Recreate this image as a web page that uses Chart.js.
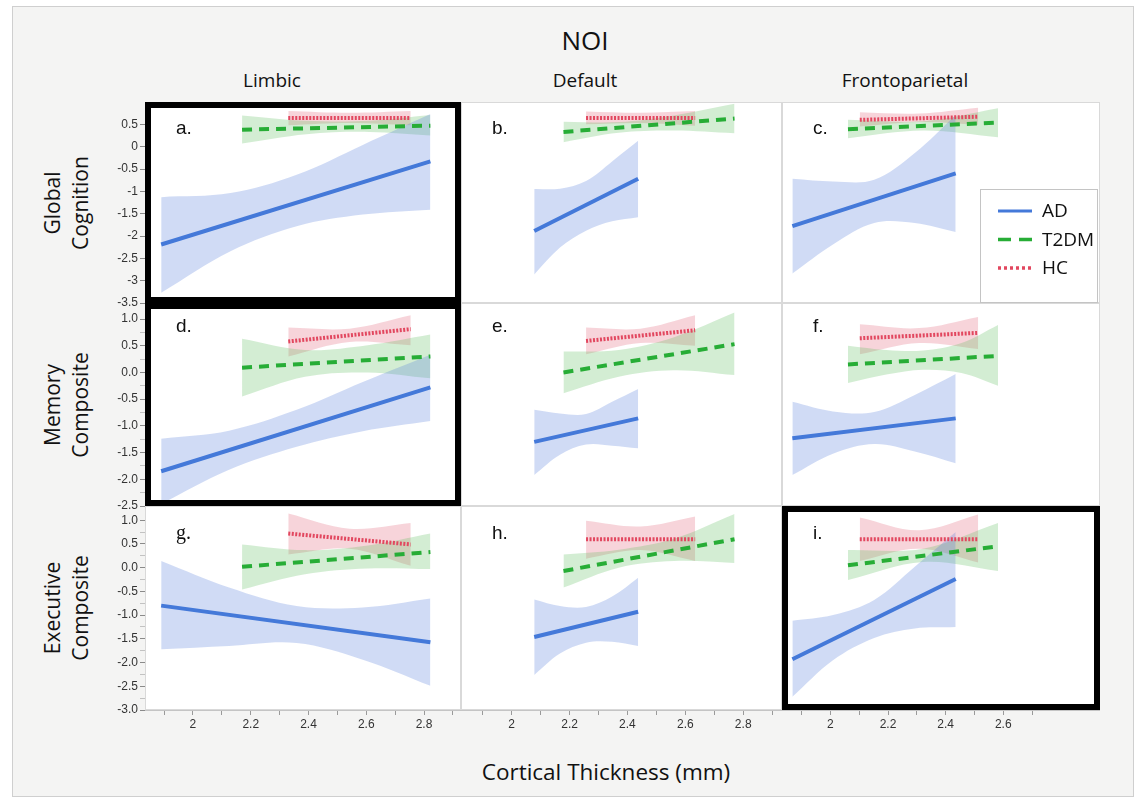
<!DOCTYPE html>
<html>
<head>
<meta charset="utf-8">
<title>NOI</title>
<script src="https://cdn.jsdelivr.net/npm/chart.js@4.4.1/dist/chart.umd.min.js"></script>
<style>
  body { margin: 0; width: 1137px; height: 798px; background: #fff; position: relative; overflow: hidden; font-family: "Open Sans", sans-serif; color: #111; }
  #frame { position: absolute; left: 12px; top: 6px; width: 1120px; height: 789px; background: #f4f4f3; border: 1px solid #cfcfcf; }
  #plotBg { position: absolute; left: 145px; top: 102px; width: 955px; height: 608px; background: #fff; }
  .ttl { position: absolute; white-space: nowrap; transform: translate(-50%, -50%); }
  .rowTtl { position: absolute; white-space: nowrap; text-align: center; font-size: 21px; line-height: 28px; transform: translate(-50%, -50%) rotate(-90deg); }
  canvas { position: absolute; }
</style>
</head>
<body>
<div id="frame"></div>
<div id="plotBg"></div>
<script>
var groups = ['AD', 'T2DM', 'HC'];
var networks = ['Limbic', 'Default', 'Frontoparietal'];
var outcomes = [['Global', 'Cognition'], ['Memory', 'Composite'], ['Executive', 'Composite']];
var panelLetters = ['a.', 'b.', 'c.', 'd.', 'e.', 'f.', 'g.', 'h.', 'i.'];
var boxedPanels = ['a.', 'd.', 'i.'];

var xTickLabels = [[2, 2.2, 2.4, 2.6, 2.8], [2, 2.2, 2.4, 2.6, 2.8], [2, 2.2, 2.4, 2.6]];
var xTickMarks = [
  [1.9, 2, 2.1, 2.2, 2.3, 2.4, 2.5, 2.6, 2.7, 2.8, 2.9],
  [1.9, 2, 2.1, 2.2, 2.3, 2.4, 2.5, 2.6, 2.7, 2.8, 2.9],
  [1.9, 2, 2.1, 2.2, 2.3, 2.4, 2.5, 2.6, 2.7]
];
var xLimits = [[1.834, 2.928], [1.825, 2.934], [1.832, 2.936]];

var yTickLabels = [
  [0.5, 0, -0.5, -1, -1.5, -2, -2.5, -3, -3.5],
  [1.0, 0.5, 0.0, -0.5, -1.0, -1.5, -2.0, -2.5],
  [1.0, 0.5, 0.0, -0.5, -1.0, -1.5, -2.0, -2.5, -3.0]
];
var yMinorTicks = [
  [],
  [0.75, 0.25, -0.25, -0.75, -1.25, -1.75, -2.25],
  [0.75, 0.25, -0.25, -0.75, -1.25, -1.75, -2.25, -2.75]
];
var yLimits = [[-3.5, 1.0], [-2.5, 1.3], [-3.0, 1.3]];

// fit lines: [x, y] at both ends; bands: [x, upper, lower]
// a. Limbic / Global Cognition
var aAdFit = [[1.890, -2.19], [2.822, -0.33]];
var aAdBand = [[1.890, -1.13, -3.27], [2.130, -1.04, -2.34], [2.359, -0.63, -1.78], [2.588, 0.04, -1.52], [2.822, 0.73, -1.41]];
var aT2Fit = [[2.170, 0.38], [2.822, 0.47]];
var aT2Band = [[2.170, 0.70, 0.07], [2.393, 0.58, 0.28], [2.611, 0.58, 0.33], [2.822, 0.71, 0.25]];
var aHcFit = [[2.330, 0.64], [2.754, 0.64]];
var aHcBand = [[2.330, 0.80, 0.48], [2.542, 0.76, 0.53], [2.754, 0.80, 0.48]];
// b. Default / Global Cognition
var bAdFit = [[2.078, -1.89], [2.437, -0.72]];
var bAdBand = [[2.078, -0.95, -2.86], [2.167, -0.94, -2.26], [2.257, -0.77, -1.88], [2.347, -0.33, -1.67], [2.437, 0.13, -1.58]];
var bT2Fit = [[2.179, 0.33], [2.770, 0.63]];
var bT2Band = [[2.179, 0.56, 0.10], [2.370, 0.55, 0.31], [2.561, 0.70, 0.36], [2.770, 0.96, 0.30]];
var bHcFit = [[2.257, 0.64], [2.634, 0.64]];
var bHcBand = [[2.257, 0.79, 0.50], [2.445, 0.76, 0.53], [2.634, 0.80, 0.47]];
// c. Frontoparietal / Global Cognition
var cAdFit = [[1.868, -1.78], [2.435, -0.60]];
var cAdBand = [[1.868, -0.72, -2.84], [2.009, -0.78, -2.19], [2.152, -0.74, -1.71], [2.293, -0.14, -1.71], [2.435, 0.71, -1.91]];
var cT2Fit = [[2.061, 0.39], [2.582, 0.54]];
var cT2Band = [[2.061, 0.60, 0.19], [2.322, 0.57, 0.36], [2.582, 0.86, 0.21]];
var cHcFit = [[2.102, 0.60], [2.513, 0.67]];
var cHcBand = [[2.102, 0.77, 0.45], [2.308, 0.74, 0.55], [2.513, 0.87, 0.49]];
// d. Limbic / Memory Composite
var dAdFit = [[1.890, -1.85], [2.822, -0.28]];
var dAdBand = [[1.890, -1.24, -2.46], [2.125, -1.09, -1.82], [2.359, -0.70, -1.39], [2.588, -0.18, -1.10], [2.822, 0.33, -0.91]];
var dT2Fit = [[2.170, 0.09], [2.822, 0.30]];
var dT2Band = [[2.170, 0.63, -0.45], [2.388, 0.42, -0.08], [2.605, 0.51, 0.00], [2.822, 0.71, -0.11]];
var dHcFit = [[2.330, 0.58], [2.754, 0.81]];
var dHcBand = [[2.330, 0.84, 0.30], [2.542, 0.82, 0.57], [2.754, 1.07, 0.51]];
// e. Default / Memory Composite
var eAdFit = [[2.078, -1.30], [2.437, -0.86]];
var eAdBand = [[2.078, -0.70, -1.92], [2.167, -0.77, -1.54], [2.257, -0.78, -1.35], [2.347, -0.55, -1.37], [2.437, -0.31, -1.42]];
var eT2Fit = [[2.179, 0.00], [2.770, 0.53]];
var eT2Band = [[2.179, 0.39, -0.39], [2.370, 0.42, -0.08], [2.561, 0.66, 0.04], [2.770, 1.12, -0.05]];
var eHcFit = [[2.257, 0.59], [2.634, 0.79]];
var eHcBand = [[2.257, 0.84, 0.34], [2.445, 0.82, 0.55], [2.634, 1.07, 0.50]];
// f. Frontoparietal / Memory Composite
var fAdFit = [[1.868, -1.23], [2.435, -0.86]];
var fAdBand = [[1.868, -0.55, -1.92], [2.009, -0.73, -1.52], [2.152, -0.74, -1.34], [2.293, -0.42, -1.48], [2.435, -0.03, -1.70]];
var fT2Fit = [[2.061, 0.15], [2.582, 0.31]];
var fT2Band = [[2.061, 0.50, -0.20], [2.194, 0.42, -0.04], [2.322, 0.41, 0.05], [2.455, 0.55, -0.01], [2.582, 0.89, -0.25]];
var fHcFit = [[2.102, 0.64], [2.513, 0.74]];
var fHcBand = [[2.102, 0.90, 0.34], [2.308, 0.83, 0.55], [2.513, 1.04, 0.44]];
// g. Limbic / Executive Composite
var gAdFit = [[1.890, -0.80], [2.822, -1.57]];
var gAdBand = [[1.890, 0.14, -1.72], [2.125, -0.42, -1.65], [2.359, -0.81, -1.59], [2.588, -0.84, -1.94], [2.822, -0.65, -2.49]];
var gT2Fit = [[2.170, 0.02], [2.822, 0.33]];
var gT2Band = [[2.170, 0.49, -0.46], [2.388, 0.37, -0.14], [2.605, 0.47, -0.02], [2.822, 0.72, -0.03]];
var gHcFit = [[2.330, 0.72], [2.754, 0.49]];
var gHcBand = [[2.330, 1.14, 0.28], [2.542, 0.82, 0.40], [2.754, 0.94, 0.04]];
// h. Default / Executive Composite
var hAdFit = [[2.078, -1.46], [2.437, -0.93]];
var hAdBand = [[2.078, -0.67, -2.26], [2.167, -0.81, -1.81], [2.257, -0.83, -1.58], [2.347, -0.61, -1.56], [2.437, -0.21, -1.65]];
var hT2Fit = [[2.179, -0.07], [2.770, 0.60]];
var hT2Band = [[2.179, 0.28, -0.42], [2.370, 0.38, 0.00], [2.561, 0.61, 0.14], [2.770, 1.13, 0.10]];
var hHcFit = [[2.257, 0.60], [2.634, 0.60]];
var hHcBand = [[2.257, 0.99, 0.19], [2.445, 0.87, 0.37], [2.634, 1.08, 0.14]];
// i. Frontoparietal / Executive Composite
var iAdFit = [[1.868, -1.93], [2.435, -0.24]];
var iAdBand = [[1.868, -1.12, -2.72], [2.009, -1.00, -1.95], [2.152, -0.68, -1.48], [2.293, 0.02, -1.28], [2.435, 0.75, -1.25]];
var iT2Fit = [[2.061, 0.05], [2.582, 0.45]];
var iT2Band = [[2.061, 0.37, -0.26], [2.322, 0.40, 0.12], [2.582, 0.94, -0.07]];
var iHcFit = [[2.102, 0.60], [2.513, 0.60]];
var iHcBand = [[2.102, 1.06, 0.14], [2.308, 0.79, 0.40], [2.513, 1.12, 0.11]];

var panelFits = [
  [aAdFit, aT2Fit, aHcFit], [bAdFit, bT2Fit, bHcFit], [cAdFit, cT2Fit, cHcFit],
  [dAdFit, dT2Fit, dHcFit], [eAdFit, eT2Fit, eHcFit], [fAdFit, fT2Fit, fHcFit],
  [gAdFit, gT2Fit, gHcFit], [hAdFit, hT2Fit, hHcFit], [iAdFit, iT2Fit, iHcFit]
];
var panelBands = [
  [aAdBand, aT2Band, aHcBand], [bAdBand, bT2Band, bHcBand], [cAdBand, cT2Band, cHcBand],
  [dAdBand, dT2Band, dHcBand], [eAdBand, eT2Band, eHcBand], [fAdBand, fT2Band, fHcBand],
  [gAdBand, gT2Band, gHcBand], [hAdBand, hT2Band, hHcBand], [iAdBand, iT2Band, iHcBand]
];

var lineColors = ['#4479d9', '#27ad36', '#e2475f'];
var bandColors = ['rgba(86,126,220,0.28)', 'rgba(96,190,96,0.28)', 'rgba(228,112,134,0.30)'];
var lineDash = [[], [10, 7], [2, 1.5]];
var legendDash = [[], [13, 8], [3, 3]];

var colEdges = [145, 461, 782, 1100];
var rowEdges = [102, 303, 506, 710];
var yAxisW = 52, xAxisH = 28, pad = 8;
var tickFont = { family: 'Liberation Sans', size: 12 };

// titles
function addText(cls, txt, x, y, size) {
  var d = document.createElement('div');
  d.className = cls;
  d.innerHTML = txt;
  d.style.left = x + 'px';
  d.style.top = y + 'px';
  if (size) d.style.fontSize = size + 'px';
  document.body.appendChild(d);
}
addText('ttl', 'NOI', 585, 40, 26);
var colTitleX = [272, 585, 905];
for (var c = 0; c < networks.length; c++) addText('ttl', networks[c], colTitleX[c], 80, 19);
for (var r = 0; r < outcomes.length; r++) addText('rowTtl', outcomes[r].join('<br>'), 66, (rowEdges[r] + rowEdges[r + 1]) / 2);
addText('ttl', 'Cortical Thickness (mm)', 606, 771, 22.5);

function near(list, v) {
  for (var k = 0; k < list.length; k++) if (Math.abs(list[k] - v) < 1e-6) return true;
  return false;
}

var panelDeco = {
  id: 'panelDeco',
  afterDatasetsDraw: function (chart, args, opts) {
    var a = chart.chartArea, ctx = chart.ctx;
    ctx.save();
    ctx.strokeStyle = '#d9d9d9';
    ctx.lineWidth = 1;
    ctx.strokeRect(a.left + 0.5, a.top + 0.5, a.right - a.left - 1, a.bottom - a.top - 1);

    ctx.fillStyle = '#111';
    ctx.textBaseline = 'alphabetic';
    ctx.font = (opts.letter === 'g.' ? '20px "Liberation Serif"' : '19px "Liberation Sans"');
    ctx.fillText(opts.letter, a.left + 31, a.top + opts.baseline);

    if (boxedPanels.indexOf(opts.letter) >= 0) {
      ctx.strokeStyle = '#000';
      ctx.lineWidth = 6;
      ctx.strokeRect(a.left + 3, a.top + 3, a.right - a.left - 6, a.bottom - a.top - 6);
    }

    if (opts.legend) {
      var bx = a.right - 120, by = a.top + 87;
      ctx.fillStyle = '#fff';
      ctx.fillRect(bx, by, 118, a.bottom - by);
      ctx.strokeStyle = '#c4c4c4';
      ctx.lineWidth = 1;
      ctx.strokeRect(bx + 0.5, by + 0.5, 117, a.bottom - by - 1);
      for (var g = 0; g < groups.length; g++) {
        var ly = by + 22 + g * 28.5;
        ctx.beginPath();
        ctx.setLineDash(legendDash[g]);
        ctx.strokeStyle = lineColors[g];
        ctx.lineWidth = g === 0 ? 3 : 3.5;
        ctx.moveTo(bx + 18, ly);
        ctx.lineTo(bx + 52, ly);
        ctx.stroke();
        ctx.setLineDash([]);
        ctx.fillStyle = '#111';
        ctx.font = '19px "Open Sans"';
        ctx.textBaseline = 'middle';
        ctx.fillText(groups[g], bx + 62, ly + 1);
      }
    }
    ctx.restore();
  }
};

for (var p = 0; p < 9; p++) {
  (function (p) {
    var r = Math.floor(p / 3), c = p % 3;
    var showX = r === 2, showY = c === 0;
    var left = colEdges[c] - (showY ? yAxisW : 0);
    var top = rowEdges[r] - pad;
    var width = colEdges[c + 1] - left;
    var height = rowEdges[r + 1] + (showX ? xAxisH : pad) - top;

    var cv = document.createElement('canvas');
    cv.width = width;
    cv.height = height;
    cv.style.left = left + 'px';
    cv.style.top = top + 'px';
    cv.style.width = width + 'px';
    cv.style.height = height + 'px';
    document.body.appendChild(cv);

    var datasets = [];
    for (var g = 0; g < groups.length; g++) {
      var band = panelBands[p][g], fit = panelFits[p][g];
      datasets.push({
        label: groups[g] + ' upper',
        data: band.map(function (b) { return { x: b[0], y: b[1] }; }),
        borderColor: 'rgba(0,0,0,0)', borderWidth: 0, pointRadius: 0,
        backgroundColor: bandColors[g], fill: '+1',
        tension: 0.35, order: 1
      });
      datasets.push({
        label: groups[g] + ' lower',
        data: band.map(function (b) { return { x: b[0], y: b[2] }; }),
        borderColor: 'rgba(0,0,0,0)', borderWidth: 0, pointRadius: 0,
        fill: false, tension: 0.35, order: 1
      });
      datasets.push({
        label: groups[g],
        data: fit.map(function (f) { return { x: f[0], y: f[1] }; }),
        borderColor: lineColors[g], borderWidth: 4, borderDash: lineDash[g],
        borderCapStyle: 'butt', pointRadius: 0, fill: false, order: 0
      });
    }

    new Chart(cv, {
      type: 'line',
      data: { datasets: datasets },
      options: {
        responsive: false,
        animation: false,
        events: [],
        layout: { padding: { top: pad, bottom: showX ? 0 : pad, left: 0, right: 0 } },
        plugins: {
          legend: { display: false },
          tooltip: { enabled: false },
          panelDeco: { letter: panelLetters[p], baseline: [32, 29, 33][r], legend: p === 2 }
        },
        scales: {
          x: {
            type: 'linear',
            min: xLimits[c][0],
            max: xLimits[c][1],
            display: showX,
            afterBuildTicks: function (s) { s.ticks = xTickMarks[c].map(function (v) { return { value: v }; }); },
            afterFit: function (s) {
              if (!showX) return;
              s.height = xAxisH; s.paddingLeft = 0; s.paddingRight = 0;
            },
            ticks: {
              autoSkip: false, maxRotation: 0, padding: 2, color: '#333', font: tickFont,
              callback: function (v) { return near(xTickLabels[c], v) ? String(Math.round(v * 10) / 10) : ''; }
            },
            grid: { drawOnChartArea: false, tickLength: 5, color: '#9a9a9a' },
            border: { display: true, color: '#c4c4c4' }
          },
          y: {
            type: 'linear',
            min: yLimits[r][0],
            max: yLimits[r][1],
            display: showY,
            afterBuildTicks: function (s) {
              s.ticks = yTickLabels[r].concat(yMinorTicks[r]).map(function (v) { return { value: v }; });
            },
            afterFit: function (s) {
              if (!showY) return;
              s.width = yAxisW; s.paddingTop = 0; s.paddingBottom = 0;
            },
            ticks: {
              autoSkip: false, padding: 2, color: '#333', font: tickFont,
              callback: function (v) {
                if (!near(yTickLabels[r], v)) return '';
                return r === 0 ? String(v) : v.toFixed(1);
              }
            },
            grid: {
              drawOnChartArea: false, tickLength: 5,
              tickColor: function (ctx) { return ctx.tick && near(yMinorTicks[r], ctx.tick.value) ? '#c2c2c2' : '#8a8a8a'; }
            },
            border: { display: true, color: '#c4c4c4' }
          }
        }
      },
      plugins: [panelDeco]
    });
  })(p);
}
</script>
</body>
</html>
